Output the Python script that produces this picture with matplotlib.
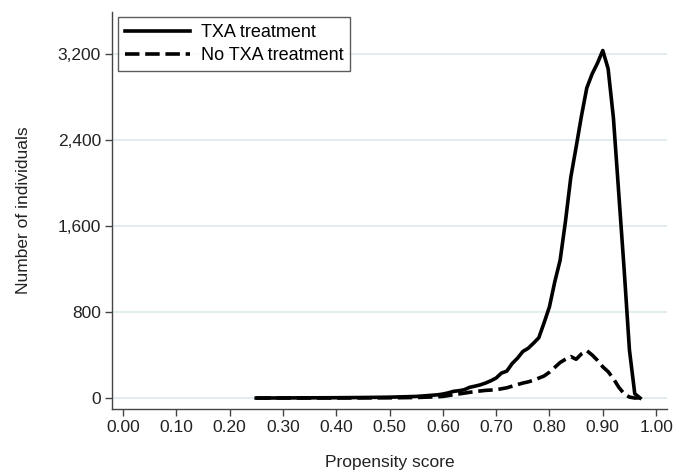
import matplotlib
matplotlib.use("Agg")
import matplotlib.pyplot as plt
from matplotlib.ticker import FuncFormatter

plt.rcParams['font.family'] = ['Liberation Sans', 'DejaVu Sans']

# propensity score density curves
txa_x = [0.25, 0.30, 0.35, 0.40, 0.45, 0.50, 0.53, 0.55, 0.57, 0.59, 0.60, 0.61, 0.62, 0.63,
         0.64, 0.65, 0.66, 0.67, 0.68, 0.69, 0.70, 0.71, 0.72, 0.73, 0.74, 0.75, 0.76, 0.77,
         0.78, 0.79, 0.80, 0.81, 0.82, 0.83, 0.84, 0.85, 0.86, 0.87, 0.88, 0.89, 0.90, 0.91,
         0.92, 0.93, 0.94, 0.95, 0.96, 0.97]
txa_y = [0, 1, 2, 3, 5, 8, 12, 15, 22, 30, 37, 48, 62, 68,
         77, 99, 110, 122, 139, 160, 186, 232, 250, 320, 370, 432, 462, 509,
         560, 700, 848, 1080, 1280, 1640, 2050, 2330, 2620, 2880, 3010, 3110, 3228, 3060,
         2600, 1900, 1200, 447, 40, 0]

notxa_x = [0.25, 0.30, 0.40, 0.50, 0.55, 0.58, 0.60, 0.62, 0.64, 0.65, 0.66, 0.68, 0.70,
           0.72, 0.74, 0.75, 0.76, 0.77, 0.78, 0.79, 0.80, 0.81, 0.82, 0.83, 0.84, 0.85,
           0.86, 0.87, 0.88, 0.89, 0.90, 0.91, 0.92, 0.93, 0.94, 0.95, 0.96, 0.97]
notxa_y = [0, 0, 0, 2, 5, 10, 15, 31, 45, 53, 60, 71, 77,
           95, 125, 139, 150, 165, 185, 205, 240, 285, 330, 360, 385, 360,
           410, 440, 400, 350, 290, 245, 180, 100, 40, 9, 0, 2]

xticks = [0.0, 0.1, 0.2, 0.3, 0.4, 0.5, 0.6, 0.7, 0.8, 0.9, 1.0]
yticks = [0, 800, 1600, 2400, 3200]

fig = plt.figure(figsize=(6.83, 4.71), dpi=100)
ax = fig.add_axes([0.164, 0.1316, 0.8126, 0.843])

ax.plot(txa_x, txa_y, color='black', lw=2.6, label='TXA treatment', solid_joinstyle='round')
ax.plot(notxa_x, notxa_y, color='black', lw=2.6, dashes=(4, 1.6), label='No TXA treatment')

ax.set_xlim(-0.0205, 1.0205)
ax.set_ylim(-102, 3586)
ax.set_xticks(xticks)
ax.set_yticks(yticks)
ax.xaxis.set_major_formatter(FuncFormatter(lambda v, p: '%.2f' % v))
ax.yaxis.set_major_formatter(FuncFormatter(lambda v, p: '{:,.0f}'.format(v)))
ax.grid(axis='y', color='#dce9ec', lw=1.2)
ax.set_axisbelow(True)

for s in ['top', 'right']:
    ax.spines[s].set_visible(False)
for s in ['left', 'bottom']:
    ax.spines[s].set_color('#444444')
    ax.spines[s].set_linewidth(1.0)

ax.tick_params(axis='both', direction='out', length=5, width=1, color='#444444',
               labelsize=12.5, labelcolor='#222222', pad=3)

ax.set_xlabel('Propensity score', fontsize=12.5, color='#222222', labelpad=14)
ax.set_ylabel('Number of individuals', fontsize=12.5, color='#222222', labelpad=19)

leg = ax.legend(loc='upper left', bbox_to_anchor=(0.010, 0.988), borderaxespad=0,
                fontsize=13, frameon=True, fancybox=False, edgecolor='#333333',
                handlelength=3.6, handletextpad=0.6, borderpad=0.4, labelspacing=0.35)
leg.get_frame().set_linewidth(1.0)

fig.savefig('out.png', dpi=100)
